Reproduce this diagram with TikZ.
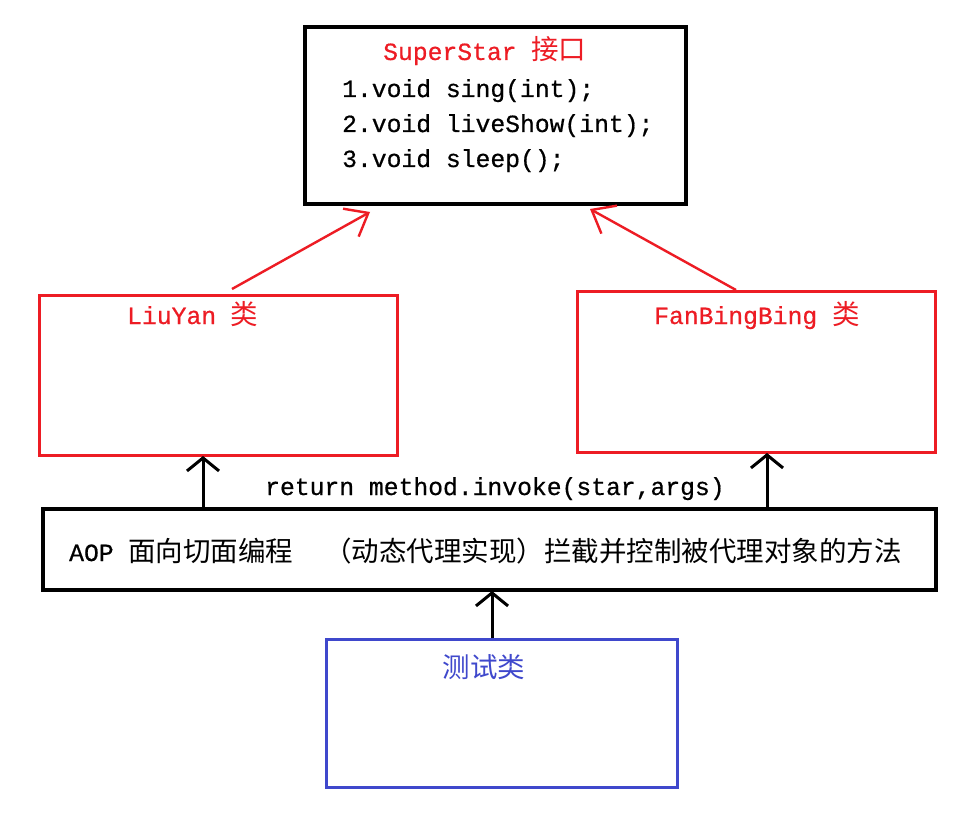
\documentclass[tikz,border=0pt]{standalone}
\usepackage{fontspec}
\setmainfont{Liberation Mono}[FakeBold=0.6]
\newfontfamily\cjk{Noto Sans CJK SC}
\usetikzlibrary{arrows.meta}
\definecolor{myred}{RGB}{237,28,36}
\definecolor{myblue}{RGB}{63,72,204}
\begin{document}
\begin{tikzpicture}[x=1pt,y=-1pt,
  box/.style={draw, inner sep=0pt, line width=3.2pt},
  redbox/.style={draw=myred, inner sep=0pt, line width=3pt},
  bluebox/.style={draw=myblue, inner sep=0pt, line width=3pt},
  txt/.style={inner sep=0pt, font=\fontsize{24.7}{30}\selectfont},
  redarrow/.style={draw=myred, line width=2.4pt, -{Straight Barb[length=20pt,width=32pt,line width=2.4pt]}},
  blkarrow/.style={draw=black, line width=3pt, -{Straight Barb[length=13pt,width=32pt,line width=3pt]}}
]
\useasboundingbox (0,0) rectangle (972,837);
\fill[white] (0,0) rectangle (972,837);
% boxes
\node[box, minimum width=381pt, minimum height=177pt] (star) at (495.5,115.5) {};
\node[redbox, minimum width=358pt, minimum height=160pt] (liu) at (218,375) {};
\node[redbox, minimum width=358pt, minimum height=161pt] (fan) at (756,371.5) {};
\node[box, minimum width=893pt, minimum height=81pt] (aop) at (489.5,549.5) {};
\node[bluebox, minimum width=351pt, minimum height=148pt] (test) at (501.5,713) {};
% texts
\node[txt, anchor=base west, text=myred] (t0) at (383,60) {SuperStar {\cjk\fontsize{27.5}{30}\selectfont 接口}};
\node[txt, anchor=base west] (t1) at (342,97) {1.void sing(int);};
\node[txt, anchor=base west] (t2) at (342,132) {2.void liveShow(int);};
\node[txt, anchor=base west] (t3) at (342,167) {3.void sleep();};
\node[txt, anchor=base west, text=myred] (tl) at (127,324) {LiuYan {\cjk\fontsize{27.5}{30}\selectfont 类}};
\node[txt, anchor=base west, text=myred] (tf) at (654,324) {FanBingBing {\cjk\fontsize{27.5}{30}\selectfont 类}};
\node[txt, anchor=base west] (tr) at (265,495) {return method.invoke(star,args)};
\node[txt, anchor=base west] (ta) at (69,561) {AOP {\cjk\fontsize{27.5}{30}\selectfont 面向切面编程\hspace{31pt}（动态代理实现）拦截并控制被代理对象的方法}};
\node[txt, anchor=base, text=myblue] (tt) at (484,677) {\cjk\fontsize{27.5}{30}\selectfont 测试类};
% connector end points
\coordinate (l1) at (232,289);
\coordinate (l2) at (370,212);
\coordinate (r1) at (736,290);
\coordinate (r2) at (590,209);
\coordinate (b1s) at (203,509);
\coordinate (b1e) at (203,456);
\coordinate (b2s) at (767,509);
\coordinate (b2e) at (767,453);
\coordinate (b3s) at (492,638);
\coordinate (b3e) at (492,591);
\draw[redarrow] (l1) -- (l2);
\draw[redarrow] (r1) -- (r2);
\draw[blkarrow] (b1s) -- (b1e);
\draw[blkarrow] (b2s) -- (b2e);
\draw[blkarrow] (b3s) -- (b3e);
\end{tikzpicture}
\end{document}
